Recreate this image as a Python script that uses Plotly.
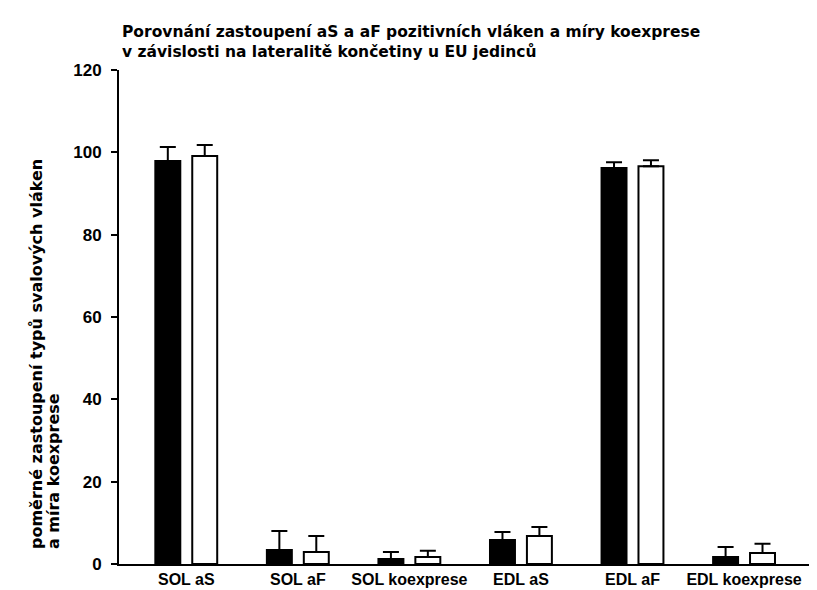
import plotly.graph_objects as go

categories = ["SOL aS", "SOL aF", "SOL koexprese", "EDL aS", "EDL aF", "EDL koexprese"]
left_values = [97.9, 3.4, 1.2, 5.8, 96.2, 1.7]
left_errors = [3.4, 4.6, 1.7, 2.0, 1.4, 2.4]
right_values = [99.1, 2.9, 1.7, 6.8, 96.6, 2.7]
right_errors = [2.7, 3.9, 1.5, 2.2, 1.5, 2.2]
y_ticks = [0, 20, 40, 60, 80, 100, 120]

title_lines = ["Porovnání zastoupení aS a aF pozitivních vláken a míry koexprese",
               "v závislosti na lateralitě končetiny u EU jedinců"]
ytitle_lines = ["poměrné zastoupení typů svalových vláken", "a míra koexprese"]

FONT = "Liberation Sans"
TFONT = "DejaVu Sans"
W, H = 817, 590
ML, MR, MT, MB = 111, 10, 62, 32
PW, PH = W - ML - MR, H - MT - MB


def px_to_paper_x(px):
    return (px - ML) / PW


def px_to_paper_y(py):
    return (H - MB - py) / PH


fig = go.Figure()
fig.add_trace(go.Bar(
    x=categories, y=left_values, name="L",
    marker=dict(color="black", line=dict(color="black", width=2)),
    error_y=dict(type="data", symmetric=False, array=left_errors,
                 arrayminus=[0] * len(left_errors), color="black", thickness=2, width=8),
))
fig.add_trace(go.Bar(
    x=categories, y=right_values, name="P",
    marker=dict(color="white", line=dict(color="black", width=2)),
    error_y=dict(type="data", symmetric=False, array=right_errors,
                 arrayminus=[0] * len(right_errors), color="black", thickness=2, width=8),
))

fig.update_layout(
    width=W, height=H,
    margin=dict(l=ML, r=MR, t=MT, b=MB),
    paper_bgcolor="white", plot_bgcolor="white",
    barmode="group", bargap=0.338, bargroupgap=0.324,
    showlegend=False,
    font=dict(family=FONT, color="black", size=15),
    xaxis=dict(range=[-0.603, 5.636], showline=True, linecolor="black", linewidth=2,
               ticks="", tickfont=dict(family=FONT, size=16, weight="bold"),
               showgrid=False, zeroline=False),
    yaxis=dict(range=[0, 120], tickvals=y_ticks, showline=True, linecolor="black",
               linewidth=2, ticks="outside", ticklen=6, tickwidth=2, tickcolor="black",
               ticklabelstandoff=6,
               tickfont=dict(family=FONT, size=17, weight="bold"),
               showgrid=False, zeroline=False),
)

for line, cy in zip(title_lines, [24, 43]):
    fig.add_annotation(
        text=line, xref="paper", yref="paper",
        x=px_to_paper_x(112), y=px_to_paper_y(cy), xanchor="left", yanchor="middle",
        showarrow=False, font=dict(family=TFONT, size=15.5, weight="bold"),
    )

for line, cx in zip(ytitle_lines, [28, 45]):
    fig.add_annotation(
        text=line, xref="paper", yref="paper",
        x=px_to_paper_x(cx), y=px_to_paper_y(545), xanchor="center", yanchor="bottom",
        textangle=-90, showarrow=False, font=dict(family=TFONT, size=16, weight="bold"),
    )

fig.write_html("out.html")
